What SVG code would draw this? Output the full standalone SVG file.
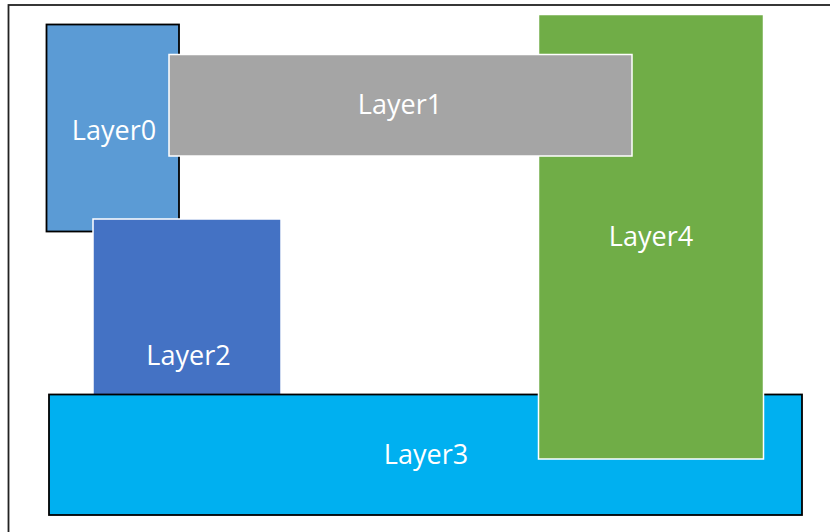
<svg xmlns="http://www.w3.org/2000/svg" width="830" height="532" viewBox="0 0 830 532">
<style>
.lbl{font-family:"Open Sans","Liberation Sans",sans-serif;font-size:27px;fill:#fff;text-anchor:middle}
.dark{stroke:#000;stroke-width:1.8}
.light{stroke:#fff;stroke-width:1.5}
</style>
<rect width="830" height="532" fill="#fff"/>
<rect x="8.5" y="5" width="900" height="600" fill="none" stroke="#222" stroke-width="1.8"/>
<g id="layer0">
<rect class="dark" x="46.5" y="24.5" width="132.5" height="207" fill="#5B9BD5"/>
<text class="lbl" x="114" y="140">Layer0</text>
</g>
<g id="layer2">
<rect class="light" x="93" y="219" width="188" height="180" fill="#4472C4"/>
<text class="lbl" x="188.5" y="365">Layer2</text>
</g>
<g id="layer3">
<rect class="dark" x="49" y="394.5" width="753" height="120.5" fill="#00B0F0"/>
<text class="lbl" x="426" y="464">Layer3</text>
</g>
<g id="layer4">
<rect class="light" x="538.5" y="14.5" width="225" height="444.5" fill="#70AD47" stroke-width="1"/>
<text class="lbl" x="651" y="246">Layer4</text>
</g>
<g id="layer1">
<rect class="light" x="169" y="54.5" width="463" height="101.5" fill="#A5A5A5"/>
<text class="lbl" x="400" y="114">Layer1</text>
</g>
<g id="connectors"/>
</svg>
